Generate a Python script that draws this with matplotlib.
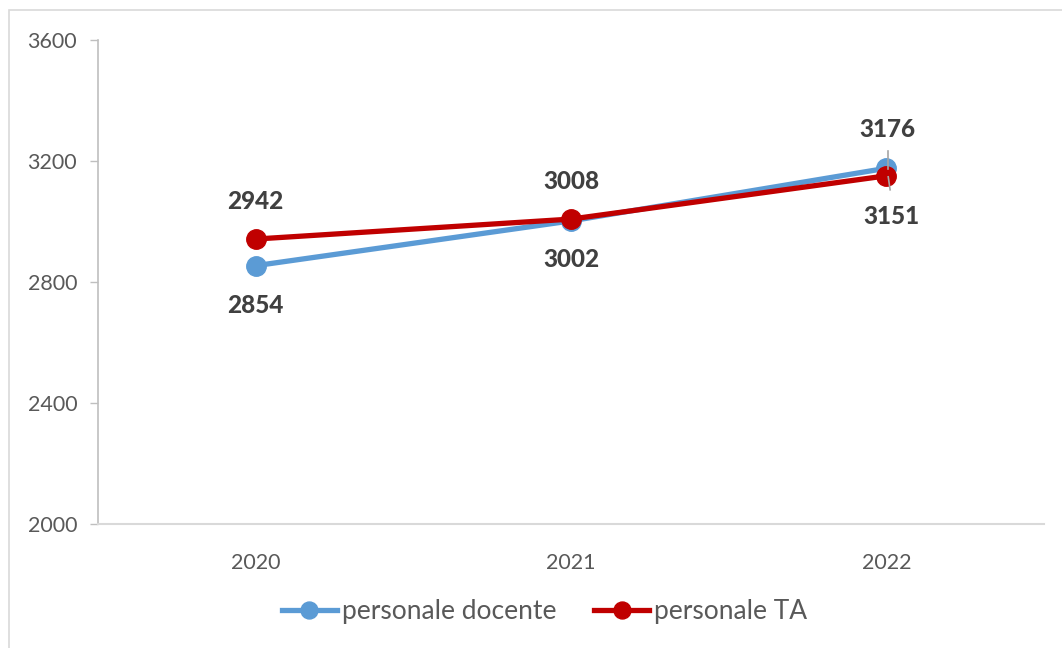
import matplotlib
matplotlib.use("Agg")
import matplotlib.pyplot as plt
from matplotlib.patches import Rectangle
from matplotlib.lines import Line2D

years = ["2020", "2021", "2022"]
docente = [2854, 3002, 3176]
ta = [2942, 3008, 3151]
yticks = [2000, 2400, 2800, 3200, 3600]

plt.rcParams["font.family"] = ["Lato", "DejaVu Sans"]

fig = plt.figure(figsize=(10.62, 6.48), dpi=100)
fig.patches.append(Rectangle((9 / 1062, -0.2), 1.2, 0.2 + (648 - 10) / 648, transform=fig.transFigure,
                             fill=False, edgecolor="#D9D9D9", linewidth=1.2, zorder=0))

ax = fig.add_axes([98 / 1062, (648 - 524) / 648, (1044 - 98) / 1062, (524 - 40) / 648])
x = list(range(len(years)))

blue = "#5B9BD5"
red = "#C00000"
ax.plot(x, docente, color=blue, lw=3.8, marker="o", ms=14, solid_capstyle="round", zorder=3)
ax.plot(x, ta, color=red, lw=3.8, marker="o", ms=14, solid_capstyle="round", zorder=4)

ax.set_xlim(-0.5, 2.5)
ax.set_ylim(2000, 3600)
ax.set_yticks(yticks)
ax.set_xticks(x)
ax.set_xticklabels(years)
ax.tick_params(axis="y", length=6, width=1, color="#BFBFBF", labelcolor="#595959",
               labelsize=15.5, pad=9)
ax.tick_params(axis="x", length=0, labelcolor="#595959", labelsize=15.5, pad=21)
for s in ["top", "right"]:
    ax.spines[s].set_visible(False)
ax.spines["left"].set_color("#BFBFBF")
ax.spines["left"].set_linewidth(1.2)
ax.spines["bottom"].set_color("#D9D9D9")
ax.spines["bottom"].set_linewidth(1.5)

lab = dict(ha="center", va="center", fontsize=17.5, fontweight="black", color="#404040")
# value labels (offsets in points)
ax.annotate(f"{ta[0]}", (0, ta[0]), xytext=(0, 27), textcoords="offset points", **lab)
ax.annotate(f"{docente[0]}", (0, docente[0]), xytext=(0, -29), textcoords="offset points", **lab)
ax.annotate(f"{ta[1]}", (1, ta[1]), xytext=(0, 27), textcoords="offset points", **lab)
ax.annotate(f"{docente[1]}", (1, docente[1]), xytext=(0, -28), textcoords="offset points", **lab)
ax.annotate(f"{docente[2]}", (2, docente[2]), xytext=(1, 28), textcoords="offset points", **lab)
ax.annotate(f"{ta[2]}", (2, ta[2]), xytext=(4, -29), textcoords="offset points", **lab)

# leader lines for the 2022 labels
leader = dict(color="#A6A6A6", lw=1.2, zorder=5)
ax.plot([2.006, 2.006], [docente[2] + 3.3 * 17, docente[2] - 3.3 * 1], **leader)
ax.plot([2.006, 2.012], [ta[2] - 3.3 * 1, ta[2] - 3.3 * 14], **leader)

handles = [
    Line2D([], [], color=blue, lw=3.8, marker="o", ms=12.2),
    Line2D([], [], color=red, lw=3.8, marker="o", ms=12.2),
]
ax.legend(handles, ["personale docente", "personale TA"], loc="center",
          bbox_to_anchor=(0.472, -0.181), ncol=2, frameon=False,
          fontsize=19, labelcolor="#595959", handlelength=2.08, handletextpad=0.19,
          columnspacing=1.44)

fig.savefig("out.png", dpi=100)
